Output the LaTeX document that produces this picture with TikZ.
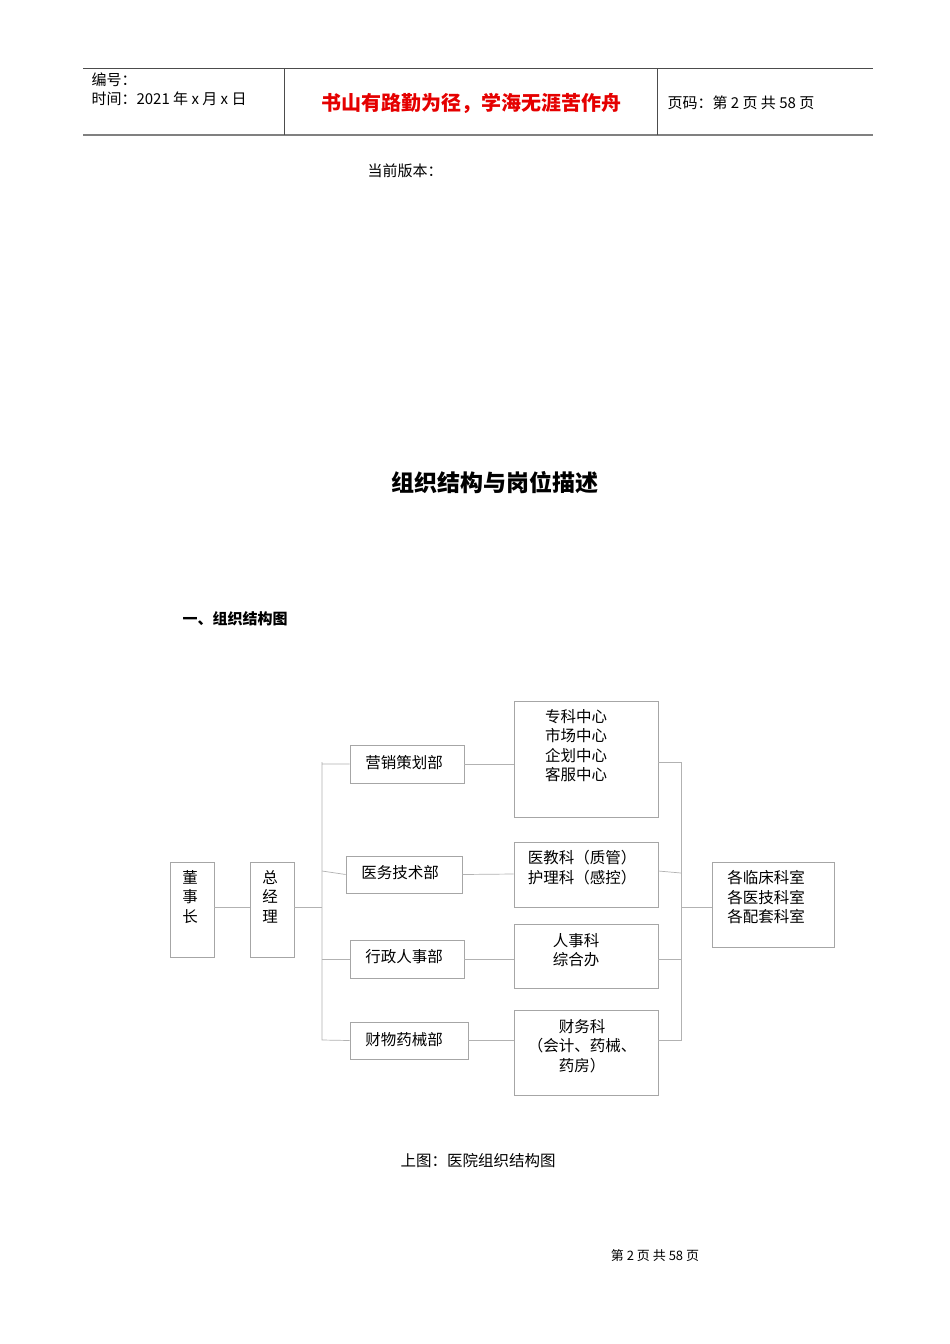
\documentclass[tikz,border=0pt]{standalone}
\usepackage{fontspec}
\newfontfamily\cjk{Noto Sans CJK SC}
\begin{document}
\begin{tikzpicture}[x=1pt,y=-1pt,
  bx/.style={draw=black!35,line width=0.7pt,inner sep=0pt},
  ln/.style={draw=black!30,line width=0.7pt},
  t/.style={font=\cjk\fontsize{15.5}{19.3}\selectfont,align=center}]
\useasboundingbox[fill=white] (0,0) rectangle (950,1344);
% header
\draw[line width=0.8pt,black!70] (83,68) -- (873,68);
\draw[line width=1.2pt,black!50] (83,135) -- (873,135);
\draw[line width=0.6pt,black!70] (284,68) -- (284,135) (657,68) -- (657,135);
\node[anchor=west,font=\cjk\fontsize{15}{19}\selectfont,align=left] (h1) at (88,89) {编号：\\时间：2021 年 x 月 x 日};
\node[font=\cjk\bfseries\fontsize{20}{24}\selectfont,text=red!90!black] (h2) at (471,103) {书山有路勤为径，学海无涯苦作舟};
\node[anchor=west,font=\cjk\fontsize{15}{18}\selectfont] (h3) at (664,103) {页码：第 2 页  共 58 页};
\node[font=\cjk\fontsize{15}{18}\selectfont] (v) at (405,171) {当前版本：};
\node[font=\cjk\bfseries\fontsize{23}{27}\selectfont] (title) at (495,483) {组织结构与岗位描述};
\node[anchor=west,font=\cjk\bfseries\fontsize{15}{18}\selectfont] (sec) at (179,619) {一、组织结构图};
% boxes
\node[bx,minimum width=44,minimum height=95] (dsz) at (192,909.5) {};
\node[t,anchor=north] at (190,867) {董\\事\\长};
\node[bx,minimum width=44,minimum height=95] (zjl) at (272,909.5) {};
\node[t,anchor=north] at (270,867) {总\\经\\理};
\node[bx,minimum width=114,minimum height=38] (yx) at (407,764) {};
\node[t] at (404,763) {营销策划部};
\node[bx,minimum width=116,minimum height=37] (yw) at (404,874.5) {};
\node[t] at (400,873) {医务技术部};
\node[bx,minimum width=114,minimum height=38] (xz) at (407,959) {};
\node[t] at (404,957) {行政人事部};
\node[bx,minimum width=118,minimum height=37] (cw) at (409,1040.5) {};
\node[t] at (404,1040) {财物药械部};
\node[bx,minimum width=144,minimum height=116] (r1) at (586,759) {};
\node[t,anchor=north] at (576,706) {专科中心\\市场中心\\企划中心\\客服中心};
\node[bx,minimum width=144,minimum height=65] (r2) at (586,874.5) {};
\node[t,anchor=north] at (582,847) {医教科（质管）\\护理科（感控）};
\node[bx,minimum width=144,minimum height=64] (r3) at (586,956) {};
\node[t,anchor=north] at (576,930) {人事科\\综合办};
\node[bx,minimum width=144,minimum height=85] (r4) at (586,1052.5) {};
\node[t,anchor=north] at (582,1016) {财务科\\（会计、药械、\\药房）};
\node[bx,minimum width=122,minimum height=85] (ks) at (773,904.5) {};
\node[t,anchor=north,align=left] at (766,867) {各临床科室\\各医技科室\\各配套科室};
% connectors
\coordinate (lt) at (322,762); \coordinate (lb) at (322,1040);
\coordinate (rt) at (681,762); \coordinate (rb) at (681,1040);
\draw[ln] (dsz.east |- 0,907) -- (zjl.west |- 0,907);
\draw[ln] (zjl.east |- 0,907) -- (322,907);
\draw[ln] (yx.west) -| (lt) -- (lb) -- (cw.west);
\draw[ln] (322,871) -- (yw.west);
\draw[ln] (322,959) -- (xz.west);
\draw[ln] (yx.east) -- (r1.west |- yx.east);
\draw[ln] (yw.east) -- (r2.west |- 0,874);
\draw[ln] (xz.east) -- (r3.west |- xz.east);
\draw[ln] (cw.east) -- (r4.west |- cw.east);
\draw[ln] (r1.east |- rt) -- (rt) -- (rb) -- (r4.east |- rb);
\draw[ln] (r2.east |- 0,871) -- (681,873);
\draw[ln] (r3.east |- 0,959) -- (681,959);
\draw[ln] (681,907) -- (ks.west |- 0,907);
\node[font=\cjk\fontsize{15.5}{18}\selectfont] (cap) at (478,1161) {上图：医院组织结构图};
\node[font=\cjk\fontsize{13}{15}\selectfont] (ft) at (655,1256) {第 2 页 共 58 页};
\end{tikzpicture}
\end{document}
